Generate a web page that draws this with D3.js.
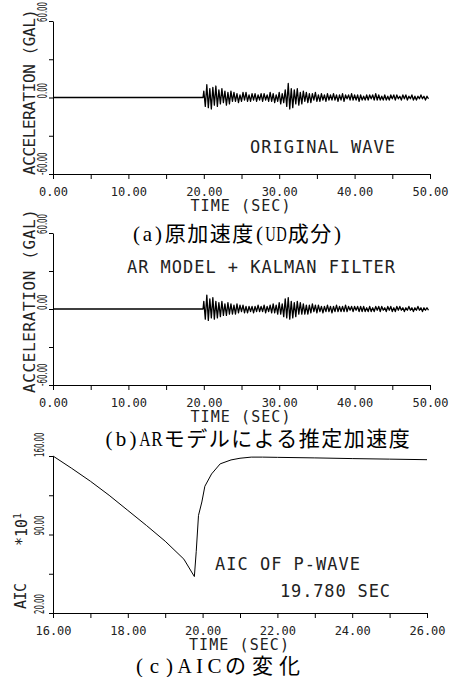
<!DOCTYPE html>
<html><head><meta charset="utf-8">
<script src="https://cdn.jsdelivr.net/npm/d3@7"></script>
<style>body{margin:0;background:#fff} svg{display:block}</style>
</head><body>
<svg id="c" width="463" height="677"></svg>
<script>
// ---------- data ----------
const accelTicks = [-60, -30, 0, 30, 60];
const accelLabels = [-60, 0, 60];
const timeTicksAB = [0, 5, 10, 15, 20, 25, 30, 35, 40, 45, 50];
const timeLabelsAB = [0, 10, 20, 30, 40, 50];
const aicTicks = [20, 55, 90, 125, 160];
const aicLabels = [20, 90, 160];
const timeTicksC = [16, 17, 18, 19, 20, 21, 22, 23, 24, 25, 26];
const timeLabelsC = [16, 18, 20, 22, 24, 26];

const preEventTime = [0, 19.9];
const preEventValue = [0, 0];
const waveStart = 20.0, waveStep = 0.2;
const originalWave = [
  5, -7, 10, -8, 7, -9, 8, -6, 9, -7,
  6, -5, 7, -4, 5, -6, 4, -5, 5, -3,
  4, -3, 3, -4, 2, -3, 4, -2, 4, -3,
  2, -3, 3, -2, 3, -3, 2, -2, 3, -3,
  3, -2, 2, -3, 4, -3, 3, -4, 2, -3,
  4, -5, 3, -4, 6, -7, 11, -9, 7, -8,
  6, -5, 7, -6, 4, -5, 5, -3, 4, -4,
  3, -4, 3, -2, 4, -3, 2, -3, 3, -2,
  2, -3, 3, -2, 2, -2, 3, -2, 2, -3,
  2, -2, 3, -3, 2, -1, 2, -2, 3, -2,
  2, -2, 2, -3, 2, -2, 1, -2, 2, -2,
  2, -1, 2, -2, 3, -2, 2, -2, 1, -2,
  2, -2, 1, -2, 2, -1, 2, -2, 2, -1,
  1, -2, 2, -1, 2, -2, 1, -1, 2, -2,
  1, -2, 1, -1, 2, -1, 1, -2, 1, -1
];
const arKalmanWave = [
  6, -8, 11, -9, 8, -7, 9, -8, 6, -7,
  5, -6, 6, -5, 4, -5, 5, -4, 4, -4,
  3, -4, 4, -3, 3, -2, 3, -3, 2, -3,
  2, -2, 2, -3, 2, -2, 3, -2, 2, -2,
  3, -3, 2, -2, 3, -3, 4, -3, 3, -4,
  5, -4, 4, -6, 8, -7, 9, -8, 6, -7,
  5, -6, 6, -4, 5, -4, 4, -4, 3, -4,
  3, -3, 4, -2, 3, -3, 3, -2, 2, -3,
  2, -2, 3, -2, 2, -3, 2, -2, 3, -2,
  2, -2, 2, -2, 3, -2, 2, -1, 2, -2,
  2, -1, 2, -2, 2, -2, 2, -2, 1, -2,
  2, -2, 1, -2, 2, -1, 2, -2, 2, -1,
  1, -2, 2, -1, 2, -2, 1, -2, 2, -1,
  2, -1, 1, -2, 1, -1, 2, -1, 1, -2,
  1, -1, 2, -1, 1, -2, 1, -1, 1, -1
];
const aicTime  = [16.0, 16.5, 17.0, 17.5, 18.0, 18.5, 19.0, 19.5, 19.78, 19.83, 19.89, 19.98, 20.06, 20.24, 20.47, 20.76, 21.0, 21.3, 21.6, 22.0, 23.0, 24.0, 25.0, 26.0];
const aicValue = [160, 149, 137.5, 125, 111.5, 98, 84, 68, 52.5, 75, 107, 119, 133, 144, 153, 156.5, 158, 159, 159, 158.8, 158.3, 157.7, 157.2, 156.7];

// ---------- drawing ----------
const svg = d3.select("#c");
const plotFont = "'DejaVu Sans Mono', monospace";
const ink = "#222";
const capFont = "'Liberation Serif', 'Noto Sans CJK JP', serif";

function panel(cfg) {
  const x = d3.scaleLinear().domain(cfg.xDomain).range(cfg.xRange);
  const y = d3.scaleLinear().domain(cfg.yDomain).range(cfg.yRange);
  const g = svg.append("g");
  const y0 = cfg.yRange[0];

  const xa = g.append("g").attr("transform", `translate(0,${y0})`)
    .call(d3.axisBottom(x).tickValues(cfg.xTicks).tickSize(5).tickSizeOuter(0)
      .tickFormat(d => cfg.xLabels.includes(d) ? d.toFixed(2) : ""));
  xa.selectAll("text").attr("font-family", plotFont).attr("font-size", 12)
    .attr("fill", ink).attr("y", 13).attr("dy", "0.71em");
  xa.selectAll("line,path").attr("stroke", "#000");

  const ya = g.append("g").attr("transform", `translate(${cfg.xRange[0]},0)`)
    .call(d3.axisLeft(y).tickValues(cfg.yTicks).tickSize(4).tickSizeOuter(0).tickFormat(""));
  ya.selectAll("line,path").attr("stroke", "#000");

  g.selectAll(".ylab").data(cfg.yLabels).join("text")
    .attr("transform", d => `translate(${cfg.yLabelX},${y(d) + 1}) rotate(-90) scale(0.5,1)`)
    .attr("font-family", "'DejaVu Sans', sans-serif").attr("font-size", 14).attr("fill", ink)
    .text(d => d.toFixed(2));

  g.append("text").attr("x", (cfg.xRange[0] + cfg.xRange[1]) / 2 - 1).attr("y", y0 + 37)
    .attr("text-anchor", "middle").attr("font-family", plotFont).attr("font-size", 15)
    .attr("fill", ink).attr("textLength", 100).attr("lengthAdjust", "spacing")
    .text("TIME (SEC)");

  return {g, x, y};
}

const pa = panel({xDomain: [0, 50], xRange: [53, 430], yDomain: [-60, 60], yRange: [174, 21],
  xTicks: timeTicksAB, xLabels: timeLabelsAB, yTicks: accelTicks, yLabels: accelLabels, yLabelX: 47});
const pb = panel({xDomain: [0, 50], xRange: [53, 430], yDomain: [-60, 60], yRange: [385, 233],
  xTicks: timeTicksAB, xLabels: timeLabelsAB, yTicks: accelTicks, yLabels: accelLabels, yLabelX: 47});
const pc = panel({xDomain: [16, 26], xRange: [53, 427], yDomain: [20, 160], yRange: [613, 456],
  xTicks: timeTicksC, xLabels: timeLabelsC, yTicks: aicTicks, yLabels: aicLabels, yLabelX: 44});

function wavePoints(values) {
  const pts = preEventTime.map((t, i) => ({t, v: preEventValue[i]}));
  values.forEach((v, i) => pts.push({t: waveStart + i * waveStep, v}));
  return pts;
}
function drawLine(p, pts, w) {
  p.g.append("path").datum(pts)
    .attr("d", d3.line().x(d => p.x(d.t)).y(d => p.y(d.v)))
    .attr("fill", "none").attr("stroke", "#000").attr("stroke-width", w).attr("stroke-linejoin", "round");
}
drawLine(pa, wavePoints(originalWave), 1.3);
drawLine(pb, wavePoints(arKalmanWave), 1.3);
drawLine(pc, aicTime.map((t, i) => ({t, v: aicValue[i]})), 1);

function rotText(x, yStart, len, txt, size) {
  const t = svg.append("text").attr("transform", `translate(${x},${yStart}) rotate(-90)`)
    .attr("font-family", plotFont).attr("font-size", size).attr("fill", ink).text(txt);
  if (len) t.attr("textLength", len).attr("lengthAdjust", "spacing");
  return t;
}
rotText(35, 175, 166, "ACCELERATION (GAL)", 16);
rotText(35, 393, 184, "ACCELERATION (GAL)", 16);
rotText(26, 609, 26, "AIC", 15);
const pw = rotText(27, 546, null, "*10", 15);
pw.append("tspan").attr("dy", -6).attr("font-size", 10).text("1");

function plotText(x, y, len, txt) {
  svg.append("text").attr("x", x).attr("y", y).attr("font-family", plotFont).attr("font-size", 17)
    .attr("fill", ink).attr("textLength", len).attr("lengthAdjust", "spacing").text(txt);
}
plotText(250, 153, 145, "ORIGINAL WAVE");
plotText(127, 273, 268, "AR MODEL + KALMAN FILTER");
plotText(215, 570, 145, "AIC OF P-WAVE");
plotText(280, 597, 110, "19.780 SEC");

// captions: each character centred in a half-width (Latin) or full-width (CJK) cell
function caption(x0, y, half, full, txt) {
  const g = svg.append("g");
  let cx = x0;
  Array.from(txt).forEach(c => {
    const w = c.charCodeAt(0) < 128 ? half : full;
    const t = g.append("text").attr("text-anchor", "middle")
      .attr("font-family", capFont).attr("font-size", 21).attr("fill", "#000").text(c);
    const nat = t.node().getComputedTextLength();
    const s = nat > w * 0.95 ? (w * 0.95) / nat : 1;
    t.attr("transform", `translate(${(cx + w / 2).toFixed(1)},${y}) scale(${s.toFixed(3)},1)`);
    cx += w;
  });
}
caption(131, 241, 11, 22.5, "(a)原加速度(UD成分)");
caption(103, 446, 12, 22.5, "(b)ARモデルによる推定加速度");
caption(132, 673, 15, 27, "(c)AICの変化");
</script>
</body></html>
